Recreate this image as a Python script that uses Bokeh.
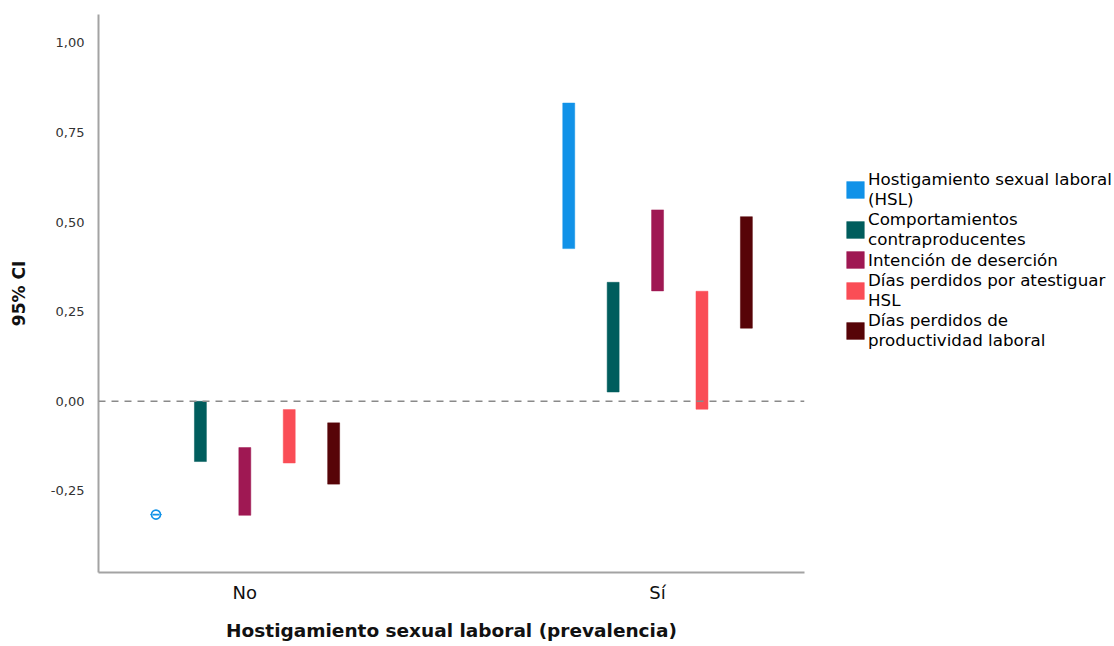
from bokeh.plotting import figure
from bokeh.models import Range1d, FixedTicker, Span, Legend, LegendItem, ColumnDataSource
from bokeh.embed import file_html
from bokeh.resources import INLINE

# ---- data -------------------------------------------------------------
groups = ["No", "Sí"]
series = [
    "Hostigamiento sexual laboral\n(HSL)",
    "Comportamientos\ncontraproducentes",
    "Intención de deserción",
    "Días perdidos por atestiguar\nHSL",
    "Días perdidos de\nproductividad laboral",
]
colors = ["#1192e8", "#005d5d", "#9f1853", "#fa4d56", "#570408"]
# 95% CI bounds per series, for group "No" and group "Sí"
lower_no = [-0.316, -0.168, -0.318, -0.172, -0.231]
upper_no = [-0.316, 0.000, -0.129, -0.023, -0.060]
lower_si = [0.426, 0.026, 0.308, -0.022, 0.204]
upper_si = [0.832, 0.332, 0.534, 0.307, 0.515]
y_ticks = [-0.25, 0.0, 0.25, 0.5, 0.75, 1.0]
y_tick_labels = ["-0,25", "0,00", "0,25", "0,50", "0,75", "1,00"]

# ---- figure -----------------------------------------------------------
p = figure(frame_width=706, frame_height=558, output_backend="svg", toolbar_location=None,
           x_range=Range1d(-0.3545, 1.356), y_range=Range1d(-0.4775, 1.079),
           min_border_left=98, min_border_right=0, min_border_top=14,
           min_border_bottom=72)
p.outline_line_color = None
p.xgrid.visible = False
p.ygrid.visible = False
p.background_fill_color = "white"

step = 0.1076
bar_w = 0.029
renderers = []
for i, (name, col) in enumerate(zip(series, colors)):
    off = (i - 2) * step
    src = ColumnDataSource(dict(
        x=[g + off for g in range(len(groups))],
        lo=[lower_no[i], lower_si[i]],
        hi=[upper_no[i], upper_si[i]],
    ))
    r = p.vbar(x="x", bottom="lo", top="hi", width=bar_w, source=src,
               fill_color=col, line_color=col, line_width=0.5)
    renderers.append(r)
    # degenerate (zero-width) intervals shown as a small marker
    pts = [(g + off, lo) for g, lo, hi in
           zip(range(len(groups)), [lower_no[i], lower_si[i]], [upper_no[i], upper_si[i]])
           if lo == hi]
    if pts:
        xs = [a for a, b in pts]
        ys = [b for a, b in pts]
        p.scatter(xs, ys, marker="circle", size=9, fill_color="white",
                  line_color=col, line_width=1.6)
        p.scatter(xs, ys, marker="dash", size=7, line_color=col, line_width=1.6)

p.add_layout(Span(location=0, dimension="width", line_color="#8a8a8a",
                  line_width=1.5, line_dash="7 6"))

# axes
p.xaxis.ticker = FixedTicker(ticks=list(range(len(groups))))
p.xaxis.major_label_overrides = {i: g for i, g in enumerate(groups)}
p.yaxis.ticker = FixedTicker(ticks=y_ticks)
p.yaxis.major_label_overrides = {t: l for t, l in zip(y_ticks, y_tick_labels)}
for ax in (p.xaxis[0], p.yaxis[0]):
    ax.axis_line_color = "#a3a3a3"
    ax.axis_line_width = 2
    ax.major_tick_line_color = None
    ax.minor_tick_line_color = None
    ax.axis_label_text_font = "DejaVu Sans"
    ax.axis_label_text_font_style = "bold"
    ax.axis_label_text_color = "#111111"
    ax.major_label_text_font = "DejaVu Sans"

p.xaxis.axis_label = "Hostigamiento sexual laboral (prevalencia)"
p.xaxis.axis_label_text_font_size = "18.5px"
p.xaxis.major_label_text_font_size = "18px"
p.xaxis.major_label_text_color = "#111111"
p.xaxis.major_label_standoff = 3
p.xaxis.axis_label_standoff = 14

p.yaxis.axis_label = "95% CI"
p.yaxis.axis_label_text_font_size = "17px"
p.yaxis.major_label_text_font_size = "13px"
p.yaxis.major_label_text_color = "#333333"
p.yaxis.major_label_standoff = 8
p.yaxis.axis_label_standoff = 19

legend = Legend(items=[LegendItem(label=s, renderers=[r]) for s, r in zip(series, renderers)],
                location=(40, 222))
legend.glyph_width = 22
legend.glyph_height = 21
legend.label_text_font = "DejaVu Sans"
legend.label_text_font_size = "16.7px"
legend.label_text_color = "#000000"
legend.label_text_line_height = 0.87
legend.label_standoff = 2
legend.spacing = 0
legend.padding = 0
legend.margin = 0
legend.border_line_color = None
legend.background_fill_alpha = 0
p.add_layout(legend, "right")

open("out.html", "w").write(file_html(p, INLINE))
